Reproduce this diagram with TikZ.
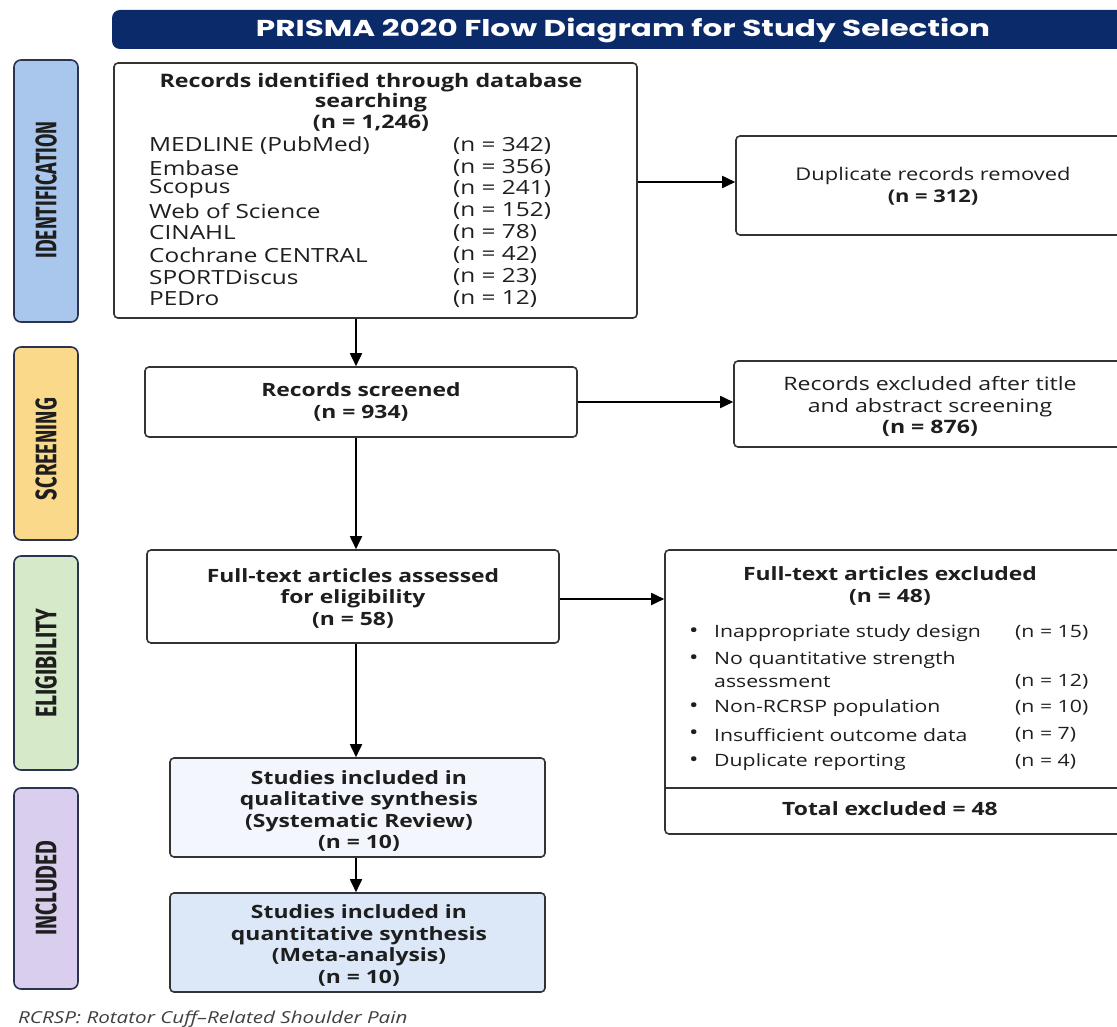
\documentclass[tikz,border=0pt]{standalone}
\usepackage{fontspec}
\usetikzlibrary{arrows.meta,calc}
\setmainfont{Open Sans}[FakeStretch=1.25]
\newfontfamily\titlefont{Poppins}[FakeStretch=1.35]
\newfontfamily\labfont{Fira Sans}
\definecolor{navy}{HTML}{0B2A6A}
\definecolor{boxline}{HTML}{333333}
\definecolor{txt}{HTML}{1E1E1E}
\definecolor{idfill}{HTML}{A9C7EC}
\definecolor{scrfill}{HTML}{FAD98B}
\definecolor{elifill}{HTML}{D6E9C9}
\definecolor{incfill}{HTML}{D9CEEE}
\definecolor{qualfill}{HTML}{F3F6FC}
\definecolor{quantfill}{HTML}{DCE7F7}
\definecolor{labline}{HTML}{2A3350}
\begin{document}
\begin{tikzpicture}[x=1pt,y=-1pt,
  box/.style={draw=boxline, line width=1.6pt, rounded corners=4pt, inner sep=0pt, fill=white},
  lab/.style={draw=labline, line width=1.6pt, rounded corners=7pt, inner sep=0pt, minimum width=64pt},
  arr/.style={draw=black, line width=1.8pt, -{Triangle[length=13pt,width=12pt]}},
  body/.style={font=\fontsize{17.5}{21.5}\selectfont, text=txt, align=center, inner sep=0pt},
  bodyb/.style={font=\fontsize{18.3}{21.5}\selectfont\bfseries, text=txt, align=center, inner sep=0pt},
  item/.style={font=\fontsize{17}{21}\selectfont, text=txt, anchor=west, inner sep=0pt},
  dbitem/.style={font=\fontsize{19.5}{21}\selectfont, text=txt, anchor=west, inner sep=0pt},
  labtxt/.style={rotate=90, text=txt, inner sep=0pt}
]
\useasboundingbox (0,0) rectangle (1117,1027);
\clip (0,0) rectangle (1117,1027);
\fill[white] (0,0) rectangle (1117,1027);

% banner
\node[fill=navy, rounded corners=8pt, minimum width=1028pt, minimum height=39pt, inner sep=0pt] (banner) at (626,29.5) {};
\node[text=white, inner sep=0pt, font=\titlefont\fontsize{23}{26}\selectfont\bfseries] (title) at (623,30) {PRISMA 2020 Flow Diagram for Study Selection};

% stage labels
\node[lab, fill=idfill, minimum height=262pt] (idlab) at (46,191) {};
\node[labtxt] (idtxt) at (46,190) {\resizebox{137pt}{21pt}{\labfont\bfseries IDENTIFICATION}};
\node[lab, fill=scrfill, minimum height=193pt] (scrlab) at (46,443.5) {};
\node[labtxt] (scrtxt) at (46,449) {\resizebox{102pt}{21pt}{\labfont\bfseries SCREENING}};
\node[lab, fill=elifill, minimum height=214pt] (elilab) at (46,663) {};
\node[labtxt] (elitxt) at (46,663) {\resizebox{109pt}{21pt}{\labfont\bfseries ELIGIBILITY}};
\node[lab, fill=incfill, minimum height=201pt] (inclab) at (46,888.5) {};
\node[labtxt] (inctxt) at (46,888) {\resizebox{95pt}{21pt}{\labfont\bfseries INCLUDED}};

% boxes
\node[box, minimum width=523pt, minimum height=255pt] (box1) at (375.5,190.5) {};
\node[box, minimum width=394pt, minimum height=99pt] (dup) at (933,185.5) {};
\node[box, minimum width=432pt, minimum height=70pt] (scr) at (361,402) {};
\node[box, minimum width=396pt, minimum height=86pt] (excl) at (932,404) {};
\node[box, minimum width=412pt, minimum height=93pt] (eli) at (353,596.5) {};
\node[box, minimum width=465pt, minimum height=284pt] (ftex) at (897.5,692) {};
\node[box, fill=qualfill, minimum width=375pt, minimum height=99pt] (qual) at (357.5,807.5) {};
\node[box, fill=quantfill, minimum width=375pt, minimum height=99pt] (quant) at (357.5,942.5) {};

% box texts
\node[bodyb, font=\fontsize{18.6}{20.5}\selectfont\bfseries] (t1) at (371,102) {Records identified through database\\searching\\(n = 1,246)};
\foreach \i/\nm/\val/\yy in {1/MEDLINE (PubMed)/342/146, 2/Embase/356/168, 3/Scopus/241/189, 4/Web of Science/152/211, 5/CINAHL/78/233, 6/Cochrane CENTRAL/42/255, 7/SPORTDiscus/23/277, 8/PEDro/12/299}{
  \node[dbitem] (db\i) at (149,\yy) {\nm};
  \node[dbitem] (dbv\i) at (453,\yy) {(n = \val)};
}
\node[body] (tdup) at (933,186) {Duplicate records removed\\\textbf{(n = 312)}};
\node[bodyb] (tscr) at (361,402) {Records screened\\(n = 934)};
\node[body, font=\fontsize{18.5}{21.5}\selectfont] (texcl) at (930,406.5) {Records excluded after title\\and abstract screening\\\textbf{(n = 876)}};
\node[bodyb] (teli) at (353,598) {Full-text articles assessed\\for eligibility\\(n = 58)};
\node[bodyb] (tft) at (890,586) {Full-text articles excluded\\(n = 48)};
\foreach \i/\yy in {1/633, 2/660, 3/708, 4/735, 5/762}{
  \node[item, font=\fontsize{20}{21}\selectfont] (bul\i) at (689,\yy) {\textbullet};
}
\node[item] (r1) at (714,633) {Inappropriate study design};
\node[item] (r2) at (714,660) {No quantitative strength};
\node[item] (r2b) at (714,682) {assessment};
\node[item] (r3) at (714,708) {Non-RCRSP population};
\node[item] (r4) at (714,735) {Insufficient outcome data};
\node[item] (r5) at (714,762) {Duplicate reporting};
\node[item] (v1) at (1015,633) {(n = 15)};
\node[item] (v2) at (1015,682) {(n = 12)};
\node[item] (v3) at (1015,708) {(n = 10)};
\node[item] (v4) at (1015,735) {(n = 7)};
\node[item] (v5) at (1015,762) {(n = 4)};
\coordinate (sepl) at (665,788);
\coordinate (sepr) at (1130,788);
\draw[draw=boxline, line width=1.2pt] (sepl) -- (sepr);
\node[bodyb] (ttot) at (890,809) {Total excluded = 48};
\node[bodyb] (tqual) at (359,811) {Studies included in\\qualitative synthesis\\(Systematic Review)\\(n = 10)};
\node[bodyb] (tquant) at (359,945.5) {Studies included in\\quantitative synthesis\\(Meta-analysis)\\(n = 10)};

% footnote
\node[anchor=west, inner sep=0pt, text=txt!85, font=\fontsize{16.5}{18}\selectfont\itshape] (foot) at (18,1019) {RCRSP: Rotator Cuff--Related Shoulder Pain};

% connectors
\coordinate (col) at (356,0);
\draw[arr] (box1.south -| col) -- (scr.north -| col);
\draw[arr] (scr.south -| col) -- (eli.north -| col);
\draw[arr] (eli.south -| col) -- (qual.north -| col);
\draw[arr] (qual.south -| col) -- (quant.north -| col);
\coordinate (r1y) at (0,182);
\draw[arr] (box1.east |- r1y) -- (dup.west |- r1y);
\draw[arr] (scr.east) -- (excl.west |- scr.east);
\coordinate (r3y) at (0,599);
\draw[arr] (eli.east |- r3y) -- (ftex.west |- r3y);
\end{tikzpicture}
\end{document}
